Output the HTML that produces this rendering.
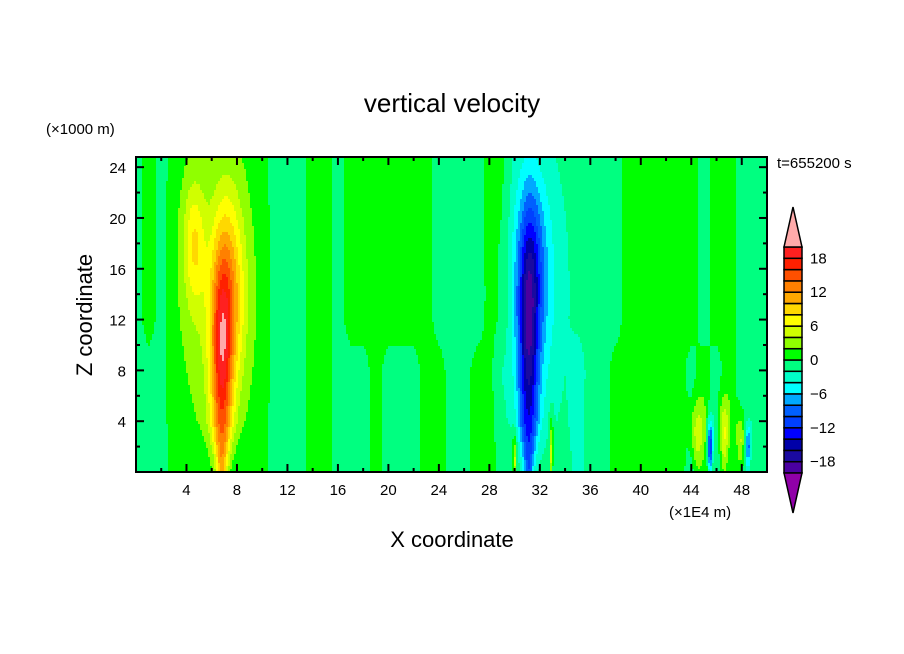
<!DOCTYPE html>
<html><head><meta charset="utf-8"><style>
html,body{margin:0;padding:0;background:#fff}
svg{display:block}
text{font-family:"Liberation Sans","DejaVu Sans",sans-serif;fill:#000}
</style></head><body>
<svg id="chart" width="904" height="654" viewBox="0 0 904 654">
<rect width="904" height="654" fill="#fff"/>
<g id="field"></g>
<g id="axes"></g>
<g id="cbar"></g>
<text x="452" y="112" font-size="26" text-anchor="middle">vertical velocity</text>
<text x="46" y="134" font-size="15">(×1000 m)</text>
<text x="777" y="168" font-size="15">t=655200 s</text>
<text x="669" y="517" font-size="15">(×1E4 m)</text>
<text x="452" y="547" font-size="22" text-anchor="middle">X coordinate</text>
<text transform="translate(92,315) rotate(-90)" font-size="22" text-anchor="middle">Z coordinate</text>
</svg>
<script>
// ---- data ----
const levels = [-20,-18,-16,-14,-12,-10,-8,-6,-4,-2,0,2,4,6,8,10,12,14,16,18,20];
const levelColors = ["#4a00a0","#1a0aa0","#0000a8","#0000ff","#0040ff","#0060ff","#00a8ff","#00ffff","#00ffc8","#00ff80","#00ff00","#90ff00","#d0ff00","#ffff00","#ffd800","#ffa800","#ff8000","#ff5000","#ff2000","#ff2020"];
const cbarLabels = [18,12,6,0,-6,-12,-18];
const xTicks = [4,8,12,16,20,24,28,32,36,40,44,48];
const yTicks = [4,8,12,16,20,24];
// background level per x unit (0..50), upper (z>12) and lower (z<8)
const bgUpper = [-1,1,-1,1,1,1,1,1,1,1,1,-1,-1,-1,1,1,-1,1,1,1,1,1,1,1,-1,-1,-1,-1,1,1,-1,-1,-1,-1,-1,-1,-1,-1,-1,1,1,1,1,1,1,-1,1,1,-1,-1,-1];
const bgLower = [-1,-1,-1,1,1,1,1,1,1,1,1,-1,-1,-1,1,1,-1,-1,-1,1,-1,-1,-1,1,1,-1,-1,1,1,-1,-1,-1,-1,-1,-1,-3,-1,-1,1,1,1,1,1,1,-1,1,-1,1,-1,-1,-1];
// features: centre x, centre z, width x, width z above / below centre, amplitude
const featX   = [6.8, 7.4, 4.6, 6.3, 31.1, 31.4, 31.5, 44.5, 45.5, 46.6, 47.9, 48.5, 30.0, 32.9];
const featZ   = [8, 14, 18, 13, 9, 16, 14, 3, 2, 3, 2.5, 2, 1, 1.5];
const featSX  = [0.6, 0.9, 0.6, 1.7, 0.55, 0.8, 1.7, 0.5, 0.2, 0.3, 0.3, 0.2, 0.15, 0.15];
const featSZ  = [6, 5.5, 3.5, 7, 7, 4.5, 8, 2, 1.5, 2, 1.5, 1.2, 1.5, 2];
const featSZlo= [10, 5, 3.5, 7, 10, 4.5, 8, 2, 1.5, 2, 1.5, 1.2, 1.5, 2];
const featAmp = [13, 8, 6, 3, -12, -6, -4, 5, -12, 6, 5, -8, 6, 6];

// ---- scales ----
const X0=136,X1=767,Y0=157,Y1=472, XMAX=50, ZMAX=24.8;
const sx = v => X0 + v/XMAX*(X1-X0);
const sy = v => Y1 - v/ZMAX*(Y1-Y0);
const NS='http://www.w3.org/2000/svg';
function mk(tag, attrs, parent){const e=document.createElementNS(NS,tag);for(const k in attrs)e.setAttribute(k,attrs[k]);parent.appendChild(e);return e;}

function bgAt(arr,x){
  const n=arr.length-1;
  const i=Math.min(n-1,Math.max(0,Math.floor(x))), f=Math.min(1,Math.max(0,x-i));
  return arr[i]*(1-f)+arr[i+1]*f;
}
function field(x,z){
  const up=bgAt(bgUpper,x), lo=bgAt(bgLower,x);
  const t=Math.min(1,Math.max(0,(z-8)/4));
  let v=lo*(1-t)+up*t;
  const narrow=Math.min(1,0.5+z/8);
  for(let k=0;k<featX.length;k++){
    const dx=(x-featX[k])/(featSX[k]*narrow);
    const dz=(z-featZ[k])/(z>=featZ[k]?featSZ[k]:featSZlo[k]);
    v+=featAmp[k]*Math.exp(-0.5*(dx*dx+dz*dz));
  }
  return v;
}
function colorOf(v){
  if(v>=20) return "#ffaaaa";
  if(v<-20) return "#9000a8";
  return levelColors[Math.floor((v+20)/2)];
}

// ---- field ----
const fg=document.getElementById('field');
const CW=2, CH=3;
for(let py=Y0; py<Y1; py+=CH){
  const z=(Y1-(py+CH/2))/(Y1-Y0)*ZMAX;
  let runStart=X0, runCol=null;
  for(let px=X0; px<=X1+CW; px+=CW){
    const c = px<X1 ? colorOf(field((px+CW/2-X0)/(X1-X0)*XMAX, z)) : null;
    if(c!==runCol){
      if(runCol){
        const r=mk('rect',{x:runStart,y:py,width:Math.min(px,X1)-runStart+0.5,height:Math.min(CH,Y1-py)+0.5,fill:runCol},fg);
        
        
      }
      runStart=px; runCol=c;
    }
    if(c===null) break;
  }
}

// ---- axes ----
const ax=document.getElementById('axes');
const fr=mk('rect',{x:X0,y:Y0,width:X1-X0,height:Y1-Y0,fill:'none',stroke:'#000','stroke-width':2},ax);


for(let v=2; v<XMAX; v+=2){
  const L = v%4===0?8:4, x=sx(v);
  mk('line',{x1:x,y1:Y1,x2:x,y2:Y1-L,stroke:'#000','stroke-width':2},ax);
  mk('line',{x1:x,y1:Y0,x2:x,y2:Y0+L,stroke:'#000','stroke-width':2},ax);
}
for(let v=2; v<ZMAX; v+=2){
  const L = v%4===0?8:4, y=sy(v);
  mk('line',{x1:X0,y1:y,x2:X0+L,y2:y,stroke:'#000','stroke-width':2},ax);
  mk('line',{x1:X1,y1:y,x2:X1-L,y2:y,stroke:'#000','stroke-width':2},ax);
}
xTicks.forEach(v=>{
  const t=mk('text',{x:sx(v),y:Y1+23,'font-size':15,'text-anchor':'middle'},ax);
  t.textContent=v;
  
  
});
yTicks.forEach(v=>{
  const t=mk('text',{x:X0-10,y:sy(v)+6,'font-size':15,'text-anchor':'end'},ax);
  t.textContent=v;
  
  
});

// ---- colorbar ----
const cb=document.getElementById('cbar');
const BX=784,BW=18,BT=247,BB=473;
const bh=(BB-BT)/levelColors.length;
const cy = v => BB - (v-levels[0])/(levels[levels.length-1]-levels[0])*(BB-BT);
levelColors.forEach((c,i)=>{
  const r=mk('rect',{x:BX,y:cy(levels[i+1]),width:BW,height:bh,fill:c,stroke:'#000','stroke-width':1.5},cb);
  
  
});
const tu=mk('polygon',{points:`${BX},${BT} ${BX+BW/2},207 ${BX+BW},${BT}`,fill:'#ffaaaa',stroke:'#000','stroke-width':1.5},cb);


const td=mk('polygon',{points:`${BX},${BB} ${BX+BW/2},513 ${BX+BW},${BB}`,fill:'#9000a8',stroke:'#000','stroke-width':1.5},cb);


cbarLabels.forEach(v=>{
  const t=mk('text',{x:810,y:cy(v)+5,'font-size':15},cb);
  t.textContent = v<0 ? '\u2212'+(-v) : String(v);
  
  
});
</script>
</body></html>
